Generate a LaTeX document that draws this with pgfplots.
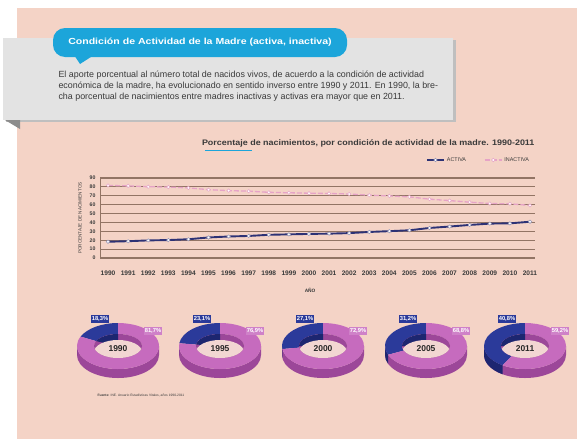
\documentclass[border=0pt]{standalone}
\usepackage{pgfplots}
\pgfplotsset{compat=1.18}
\usepackage{pgfplotstable}
\usepackage{fontspec}
\setmainfont{Liberation Sans}

\definecolor{peach}{HTML}{F4D3C6}
\definecolor{boxgrey}{HTML}{E3E3E3}
\definecolor{bubble}{HTML}{1CA5DA}
\definecolor{activa}{HTML}{2D3275}
\definecolor{inactiva}{HTML}{E6A3C6}
\definecolor{gridbrown}{HTML}{927464}
\definecolor{txt}{HTML}{3A3A3A}
\definecolor{ringpink}{HTML}{C66BBE}
\definecolor{ringpinkside}{HTML}{9C4799}
\definecolor{ringblue}{HTML}{2B3A9A}
\definecolor{ringblueside}{HTML}{1D2670}
\definecolor{hole}{HTML}{F2D6D2}

% porcentaje de nacimientos por condicion de actividad de la madre
\pgfplotstableread{
anio activa inactiva
1990 18.3 81.7
1991 18.9 81.1
1992 19.8 80.2
1993 20.2 79.8
1994 21.1 78.9
1995 23.1 76.9
1996 24.2 75.8
1997 24.8 75.2
1998 26.1 73.9
1999 26.6 73.4
2000 27.1 72.9
2001 27.4 72.6
2002 28.0 72.0
2003 29.3 70.7
2004 30.2 69.8
2005 31.2 68.8
2006 33.8 66.2
2007 35.4 64.6
2008 37.2 62.8
2009 38.7 61.3
2010 39.0 61.0
2011 40.8 59.2
}\nacimientos

\newcommand{\pct}[1]{\pgfmathprintnumber[fixed, precision=1, use comma, fixed zerofill, assume math mode=true]{#1}\%}

\begin{document}
\begin{tikzpicture}
\begin{scope}[x=1pt,y=-1pt]
  % fondo
  \fill[white] (0,0) rectangle (577,439);
  \fill[peach] (17,8) rectangle (577,439);
  % recuadro gris
  \fill[black!25] (6,40) rectangle (456,122);
  \fill[boxgrey] (3,38) rectangle (453,120);
  \fill[black!45] (5,120) -- (20,120) -- (20,129) -- cycle;
  % globo
  \fill[bubble, rounded corners=12pt] (53,28) rectangle (347,57);
  \fill[bubble] (74,55) -- (94,55) -- (80,64) -- cycle;
  \node[text=white, font=\bfseries\fontsize{8.8}{9}\selectfont] at (200,42)
    {\scalebox{1.2}[1]{Condición de Actividad de la Madre (activa, inactiva)}};
  \node[anchor=west, align=left, text=txt, font=\fontsize{8.9}{10.8}\selectfont] at (55,86)
    {El aporte porcentual al número total de nacidos vivos, de acuerdo a la condición de actividad\\
     económica de la madre, ha evolucionado en sentido inverso entre 1990 y 2011. En 1990, la bre-\\
     cha porcentual de nacimientos entre madres inactivas y activas era mayor que en 2011.};
  % titulo del grafico
  \node[anchor=east, text=txt, font=\bfseries\fontsize{8}{8}\selectfont] at (538,143)
    {\scalebox{1.12}[1]{Porcentaje de nacimientos, por condición de actividad de la madre. 1990-2011}};
  \draw[bubble, line width=1.3pt] (205,150.5) -- (252,150.5);
  % fuente
  \node[anchor=west, text=txt, font=\fontsize{3.3}{4}\selectfont] at (94,395)
    {\textbf{Fuente:} INE. Anuario Estadísticas Vitales, años 1990-2011};
\end{scope}

\begin{axis}[
  at={(100pt,-258pt)}, anchor=south west,
  width=435pt, height=80pt, scale only axis,
  xmin=1989.6, xmax=2011.25, ymin=0, ymax=90,
  axis lines*=left,
  axis line style={gridbrown, line width=1pt},
  xtick={1990,...,2011}, ytick={0,10,...,90},
  major tick length=0pt,
  ymajorgrids, grid style={gridbrown, line width=1.1pt},
  /pgf/number format/1000 sep={},
  /pgf/number format/assume math mode=true,
  xticklabel style={font=\bfseries\fontsize{6.6}{7}\selectfont, text=txt, yshift=-9pt},
  yticklabel style={font=\bfseries\fontsize{5.2}{5}\selectfont, text=txt, xshift=-1pt},
  ylabel={PORCENTAJE DE NACIMIENTOS},
  ylabel style={at={(axis description cs:-0.046,0.5)}, anchor=center,
    font=\fontsize{4.6}{5}\selectfont, text=txt},
  xlabel={AÑO},
  xlabel style={at={(axis description cs:0.483,-0.41)}, anchor=center,
    font=\bfseries\fontsize{4.8}{5}\selectfont, text=txt},
  legend columns=2,
  legend style={at={(axis description cs:0.87,1.225)}, anchor=center,
    draw=none, fill=none, font=\fontsize{5.4}{6}\selectfont, text=txt,
    /tikz/every even column/.append style={column sep=16pt}},
  legend image post style={scale=1.0},
]
\addplot[activa, line width=1.9pt, mark=*, mark size=1.7pt,
  mark options={fill=white, draw=activa!50, line width=0.5pt}]
  table[x=anio, y=activa] {\nacimientos};
\addlegendentry{ACTIVA}
\addplot[inactiva, line width=1.3pt, dash pattern=on 5pt off 2pt, mark=*, mark size=1.7pt,
  mark options={solid, fill=white, draw=inactiva, line width=0.5pt}]
  table[x=anio, y=inactiva] {\nacimientos};
\addlegendentry{INACTIVA}
\end{axis}

% anillos por año: centro x, año, % activa, % inactiva
\foreach \cx/\yr/\act/\ina in {118/1990/18.3/81.7, 220/1995/23.1/76.9,
    323/2000/27.1/72.9, 426/2005/31.2/68.8, 525/2011/40.8/59.2}{
  \pgfmathsetmacro\be{90+3.6*\act}
  \pgfmathsetmacro\bs{max(180,\be)}
  \pgfmathsetmacro\bw{min(180,\be)}
  \begin{scope}[shift={(\cx pt,-346pt)}, x=1pt, y=1pt]
    % costado
    \fill[ringpinkside] (180:41 and 23) arc[start angle=180, end angle=360, x radius=41, y radius=23]
      -- ++(0,-9) arc[start angle=360, end angle=180, x radius=41, y radius=23] -- cycle;
    \fill[ringblueside] (180:41 and 23) arc[start angle=180, end angle=\bs, x radius=41, y radius=23]
      -- ++(0,-9) arc[start angle=\bs, end angle=180, x radius=41, y radius=23] -- cycle;
    % cara superior
    \fill[ringblue] (90:41 and 23) arc[start angle=90, end angle=\be, x radius=41, y radius=23]
      -- (\be:24 and 12) arc[start angle=\be, end angle=90, x radius=24, y radius=12] -- cycle;
    \fill[ringpink] (\be:41 and 23) arc[start angle=\be, end angle=450, x radius=41, y radius=23]
      -- (450:24 and 12) arc[start angle=450, end angle=\be, x radius=24, y radius=12] -- cycle;
    % hueco
    \begin{scope}
      \clip (0,0) ellipse [x radius=24, y radius=12];
      \fill[ringpinkside] (-30,-20) rectangle (30,20);
      \fill[ringblueside] (0,0) -- (90:40 and 20) arc[start angle=90, end angle=\bw, x radius=40, y radius=20] -- cycle;
      \fill[hole] (0,-6) ellipse [x radius=24, y radius=12];
    \end{scope}
    \node[text=black!85, font=\bfseries\fontsize{8.5}{9}\selectfont] at (0,-3) {\yr};
    \node[fill=ringblue, text=white, inner sep=1.2pt, font=\bfseries\fontsize{5.8}{6}\selectfont]
      at (-18,27) {\pct{\act}};
    \node[fill=ringpink!85!white, text=white, inner sep=1.2pt, font=\bfseries\fontsize{5.8}{6}\selectfont]
      at (35,15) {\pct{\ina}};
  \end{scope}
}
\end{tikzpicture}
\end{document}
